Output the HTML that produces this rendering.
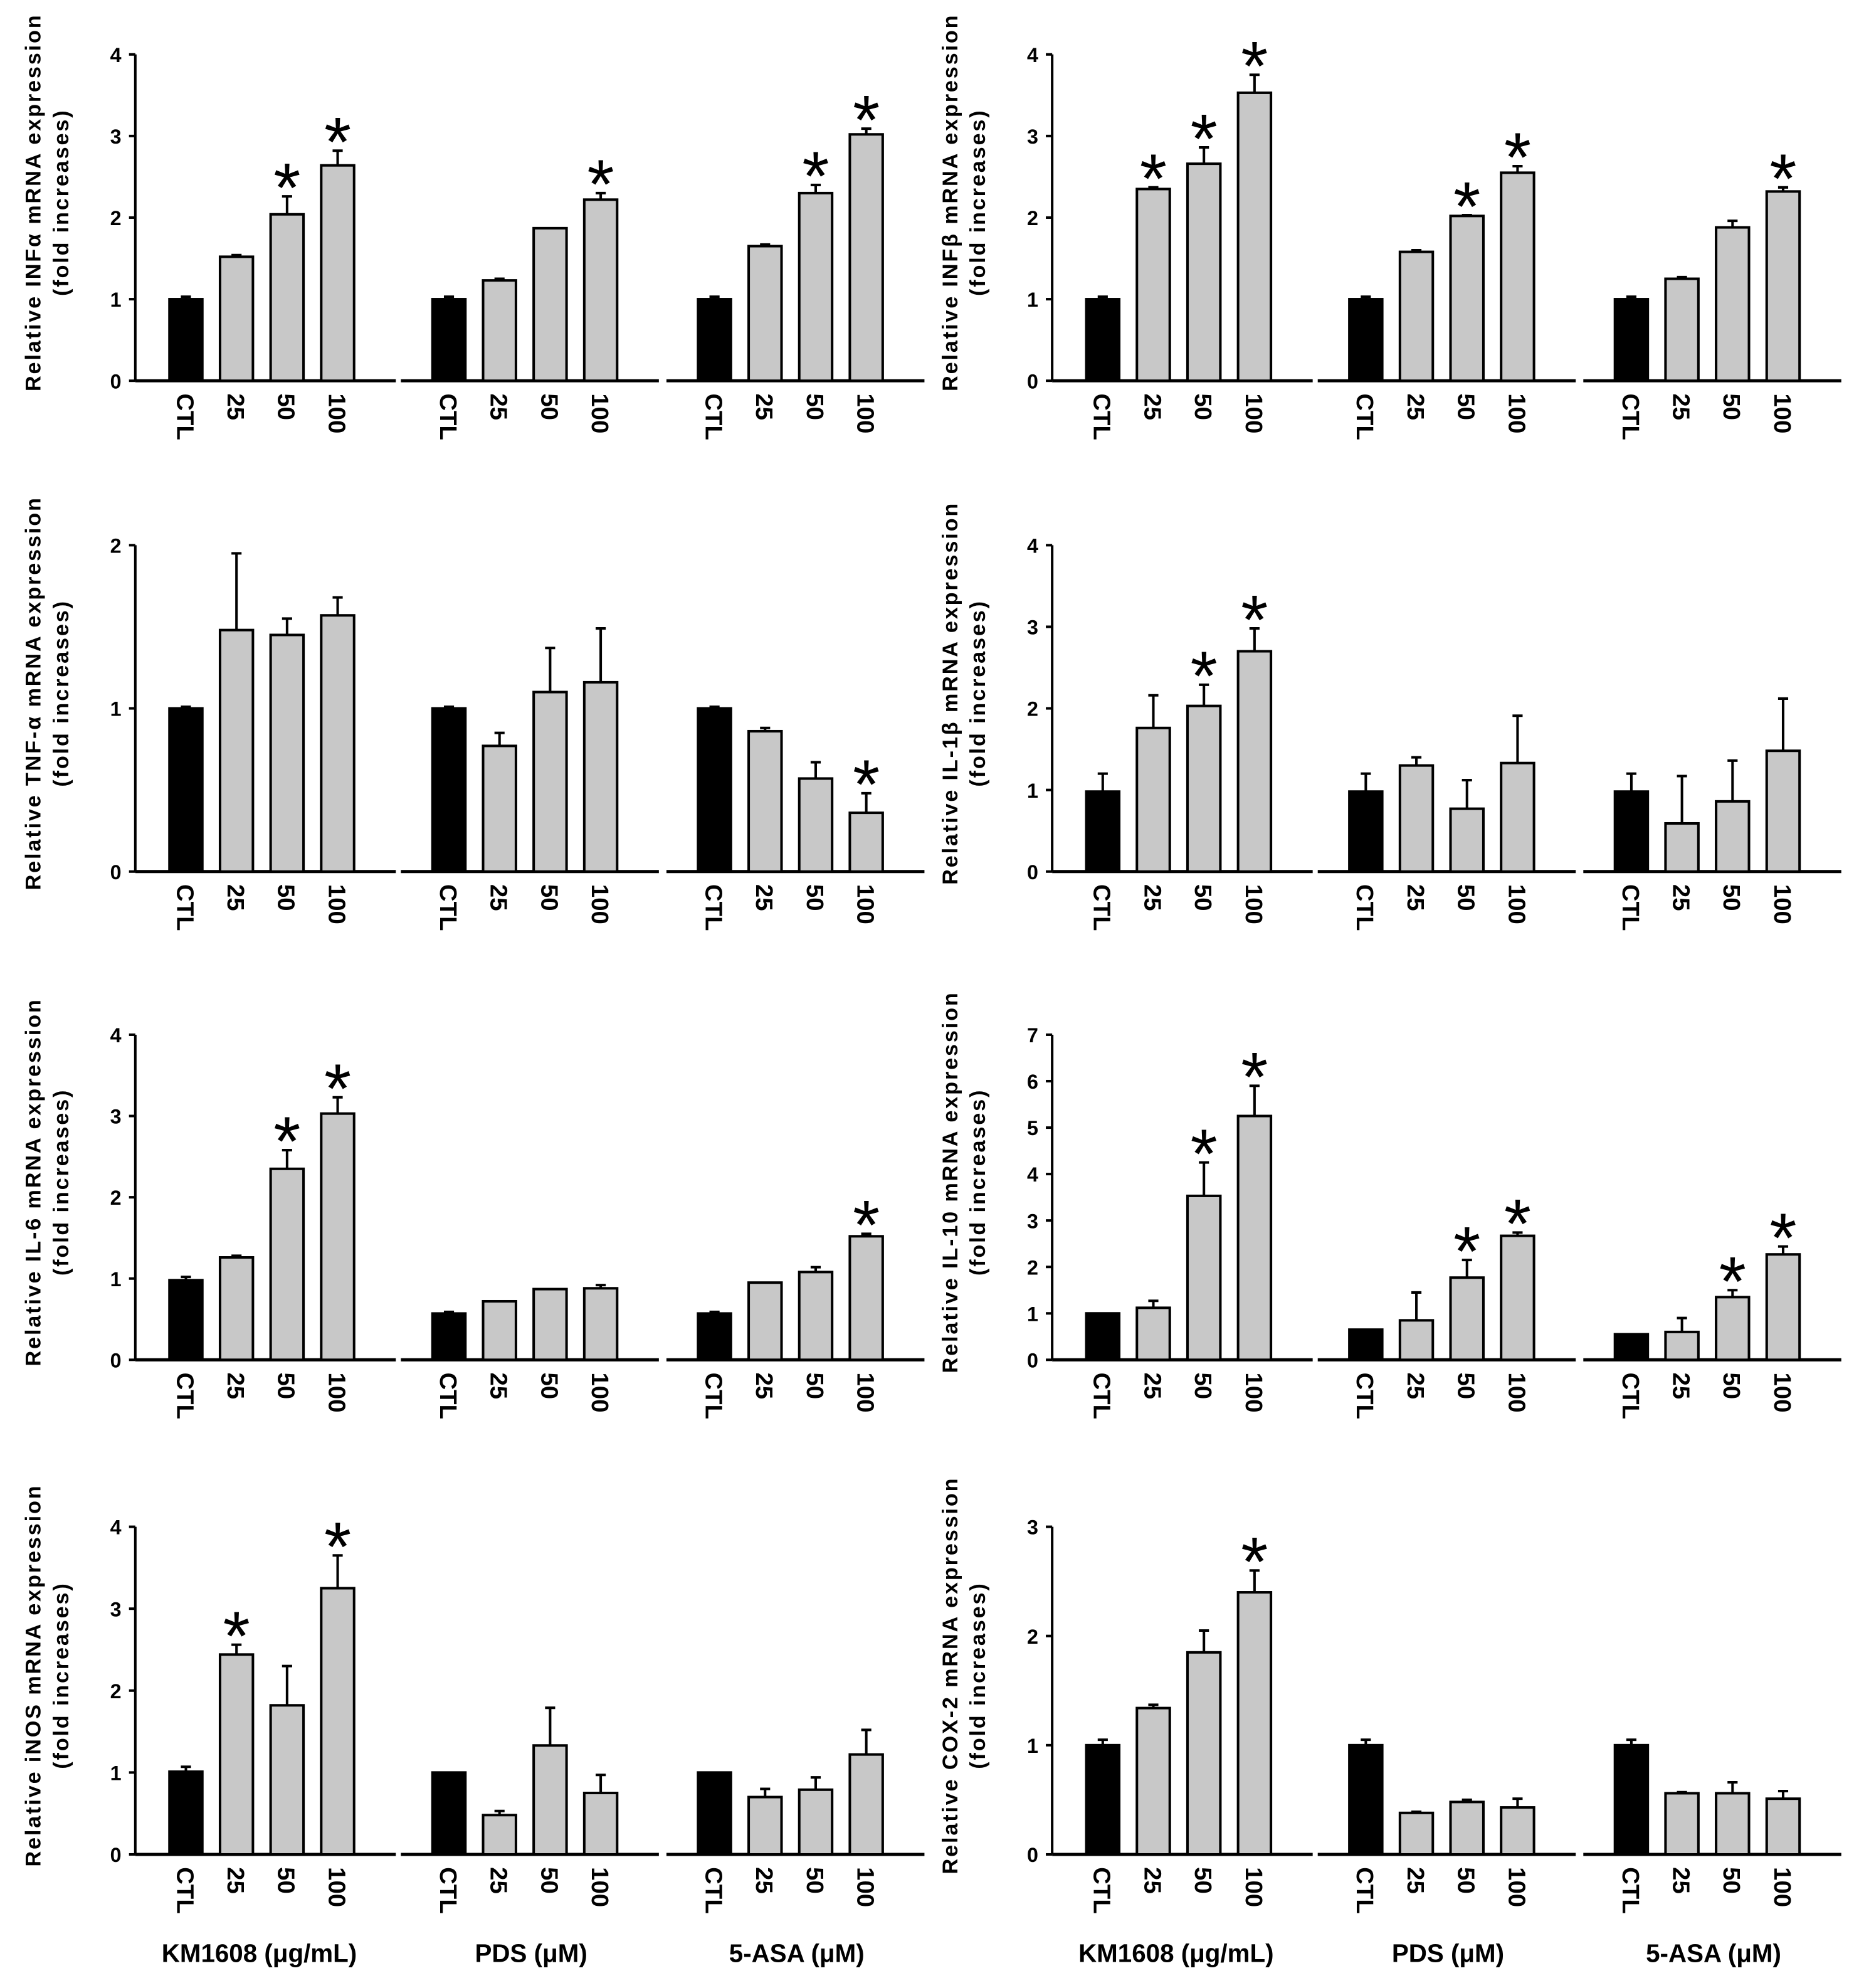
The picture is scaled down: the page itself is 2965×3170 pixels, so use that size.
<!DOCTYPE html>
<html><head><meta charset="utf-8"><style>html,body{margin:0;padding:0;background:#fff}svg{display:block}</style></head>
<body>
<svg id="fig" xmlns="http://www.w3.org/2000/svg" width="2965" height="3170" viewBox="0 0 1470 1571.6" font-family="Liberation Sans, Arial, sans-serif"></svg>
<script>
const panelNames = ["infa","infb","tnfa","il1b","il6","il10","inos","cox2"];
const panelTitles = ["Relative INFα mRNA expression","Relative INFβ mRNA expression","Relative TNF-α mRNA expression","Relative IL-1β mRNA expression","Relative IL-6 mRNA expression","Relative IL-10 mRNA expression","Relative iNOS mRNA expression","Relative COX-2 mRNA expression"];
const panelMax = [4,4,2,4,4,7,4,3];
const categories = ["CTL","25","50","100"];
const groupLabels = ["KM1608 (μg/mL)","PDS (μM)","5-ASA (μM)"];
const values = [
 [[1.0,1.52,2.04,2.64],[1.0,1.23,1.87,2.22],[1.0,1.65,2.3,3.02]],
 [[1,2.35,2.66,3.53],[1,1.58,2.02,2.55],[1,1.25,1.88,2.32]],
 [[1,1.48,1.45,1.57],[1,0.77,1.1,1.16],[1,0.86,0.57,0.36]],
 [[0.98,1.76,2.03,2.7],[0.98,1.3,0.77,1.33],[0.98,0.59,0.86,1.48]],
 [[0.98,1.26,2.35,3.03],[0.57,0.72,0.87,0.88],[0.57,0.95,1.08,1.52]],
 [[1,1.12,3.53,5.25],[0.65,0.85,1.77,2.67],[0.55,0.6,1.35,2.27]],
 [[1.01,2.44,1.82,3.25],[1,0.48,1.33,0.75],[1,0.7,0.79,1.22]],
 [[1,1.34,1.85,2.4],[1,0.38,0.48,0.43],[1,0.56,0.56,0.51]]
];
const errors = [
 [[0.03,0.02,0.22,0.18],[0.03,0.02,0,0.08],[0.03,0.02,0.1,0.07]],
 [[0.03,0.02,0.2,0.22],[0.03,0.02,0.01,0.08],[0.03,0.02,0.08,0.05]],
 [[0.01,0.47,0.1,0.11],[0.01,0.08,0.27,0.33],[0.01,0.02,0.1,0.12]],
 [[0.22,0.4,0.26,0.28],[0.22,0.1,0.35,0.58],[0.22,0.58,0.5,0.64]],
 [[0.04,0.02,0.23,0.2],[0.02,0,0,0.04],[0.02,0,0.06,0.03]],
 [[0,0.15,0.72,0.65],[0,0.6,0.38,0.07],[0,0.3,0.15,0.17]],
 [[0.06,0.12,0.48,0.4],[0,0.05,0.46,0.22],[0,0.1,0.15,0.3]],
 [[0.05,0.03,0.2,0.2],[0.05,0.01,0.02,0.08],[0.05,0.01,0.1,0.07]]
];
const stars = [
 [[0,0,1,1],[0,0,0,1],[0,0,1,1]],
 [[0,1,1,1],[0,0,1,1],[0,0,0,1]],
 [[0,0,0,0],[0,0,0,0],[0,0,0,1]],
 [[0,0,1,1],[0,0,0,0],[0,0,0,0]],
 [[0,0,1,1],[0,0,0,0],[0,0,0,1]],
 [[0,0,1,1],[0,0,1,1],[0,0,1,1]],
 [[0,1,0,1],[0,0,0,0],[0,0,0,0]],
 [[0,0,0,1],[0,0,0,0],[0,0,0,0]]
];
const svg=document.getElementById('fig');
const NS="http://www.w3.org/2000/svg";
function mk(tag,attrs,parent,text){const e=document.createElementNS(NS,tag);for(const k in attrs)e.setAttribute(k,attrs[k]);if(text!==undefined)e.textContent=text;parent.appendChild(e);return e;}
const rowTop=[43,431,818,1207], rowBase=[301,689,1075,1466];
for(let p=0;p<8;p++){
  const col=p%2,row=Math.floor(p/2);
  const ox=col?725:0;
  const axX=107+ox, top=rowTop[row], base=rowBase[row], max=panelMax[p];
  const y=v=>base-(base-top)*v/max;
  const g=mk('g',{},svg);
  
  
  const ax=mk('line',{x1:axX,y1:top,x2:axX,y2:base,stroke:'#000','stroke-width':2},g);
  
  
  for(let t=0;t<=max;t++){
    mk('line',{x1:axX-5,y1:y(t),x2:axX,y2:y(t),stroke:'#000','stroke-width':2},g);
    const tl=mk('text',{x:axX-11,y:y(t)+6,'font-size':16,'font-weight':'bold','text-anchor':'end'},g,String(t));
    
    
  }
  const lx=axX-75, cy=(top+base)/2-12;
  const t1=mk('text',{transform:`translate(${lx},${cy}) rotate(-90)`,'font-size':17,'font-weight':'bold','text-anchor':'middle','letter-spacing':1.4},g,panelTitles[p]);
  
  
  const t2=mk('text',{transform:`translate(${lx+22},${cy}) rotate(-90)`,'font-size':17,'font-weight':'bold','text-anchor':'middle','letter-spacing':1.4},g,'(fold increases)');
  
  
  for(let gi=0;gi<3;gi++){
    const gx=ox+[0,208,418][gi];
    const bl=mk('line',{x1:gx+(gi?109:107),y1:base,x2:gx+313,y2:base,stroke:'#000','stroke-width':2.5},g);
    
    
    for(let c=0;c<4;c++){
      const cx=gx+147+40*c, v=values[p][gi][c], e=errors[p][gi][c];
      if(e>0){
        mk('line',{x1:cx,y1:y(v),x2:cx,y2:y(v+e),stroke:'#000','stroke-width':2},g);
        mk('line',{x1:cx-4,y1:y(v+e),x2:cx+4,y2:y(v+e),stroke:'#000','stroke-width':2},g);
      }
      const r=mk('rect',{x:cx-13,y:y(v),width:26,height:base-y(v),fill:c?'#c8c8c8':'#000',stroke:'#000','stroke-width':2},g);
      
      
      if(stars[p][gi][c]){
        const s=mk('text',{x:cx,y:y(v+e)+12,'font-size':55,'text-anchor':'middle'},g,'*');
        
        
      }
      const xl=mk('text',{transform:`translate(${cx-7},${base+10}) rotate(90)`,'font-size':19,'font-weight':'bold'},g,categories[c]);
      
      
    }
  }
}
for(let col=0;col<2;col++){
  [205,420,630].forEach((x,i)=>{
    const t=mk('text',{x:x+col*725,y:1551,'font-size':20,'font-weight':'bold','text-anchor':'middle'},svg,groupLabels[i]);
    
    
  });
}
</script>
</body></html>
